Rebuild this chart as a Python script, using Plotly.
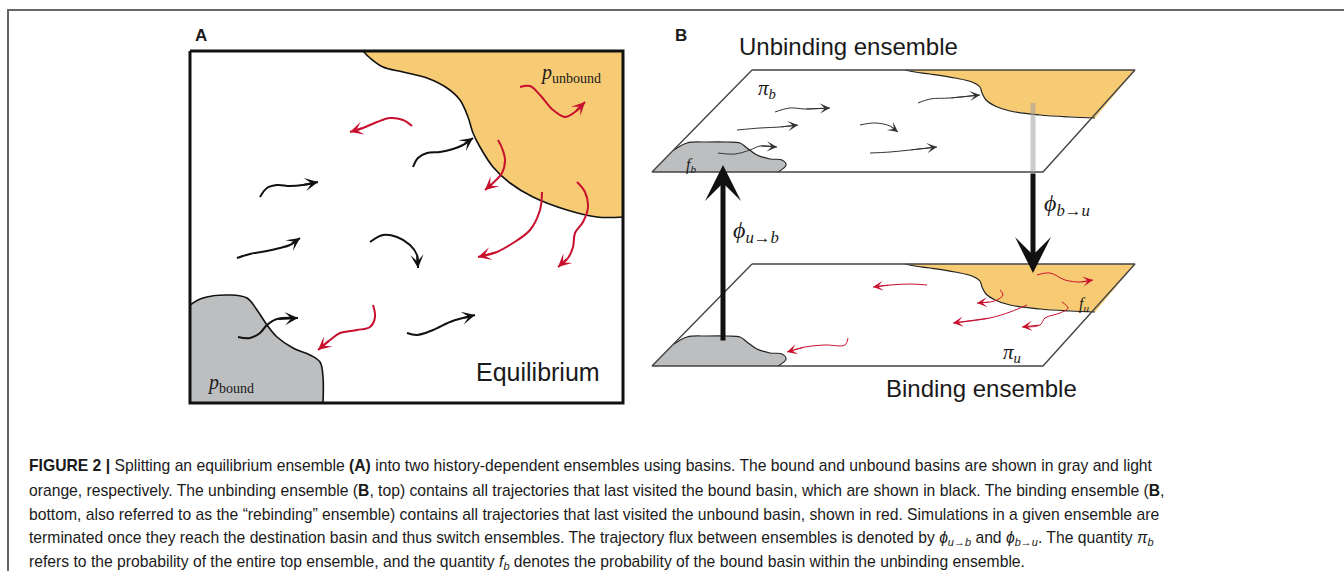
import plotly.graph_objects as go

# ---- panel A: basins (pixel coordinates of the drawing) ----
a_box_x = [190, 623, 623, 190, 190]
a_box_y = [51, 51, 403, 403, 51]

a_unbound_x = [363, 370, 383, 403, 427, 447, 460, 468, 473, 480, 493, 510, 533, 567, 597, 623]
a_unbound_y = [51, 58, 67, 72, 78, 88, 100, 117, 133, 147, 167, 183, 197, 210, 217, 217]

a_bound_x = [190, 203, 230, 247, 257, 267, 277, 293, 310, 320, 323, 323]
a_bound_y = [305, 298, 295, 298, 310, 325, 337, 348, 355, 362, 377, 403]

# trajectories that last visited the bound basin (black)
a_black = [
    ([260, 267, 277, 290, 303, 318], [197, 188, 185, 186, 185, 182]),
    ([237, 250, 267, 280, 290, 300], [258, 254, 251, 248, 245, 238]),
    ([413, 418, 427, 440, 453, 463, 473], [167, 158, 153, 152, 149, 145, 138]),
    ([370, 383, 397, 410, 417, 418], [242, 235, 237, 245, 255, 268]),
    ([238, 250, 260, 267, 277, 298], [337, 338, 333, 325, 319, 318]),
    ([407, 417, 433, 450, 463, 475], [333, 335, 330, 322, 318, 315]),
]
# trajectories that last visited the unbound basin (red)
a_red = [
    ([520, 530, 540, 553, 565, 575, 585], [87, 86, 95, 110, 117, 112, 102]),
    ([412, 403, 390, 377, 363, 350], [126, 120, 118, 122, 128, 132]),
    ([498, 502, 505, 502, 493, 485], [140, 148, 160, 173, 183, 190]),
    ([542, 540, 530, 513, 497, 478], [192, 210, 230, 243, 252, 257]),
    ([577, 585, 588, 583, 575, 573, 568, 558], [182, 192, 207, 222, 233, 247, 258, 267]),
    ([373, 375, 370, 357, 340, 330, 318], [305, 317, 327, 330, 333, 340, 350]),
]

# ---- panel B: two ensembles ----
plane_x = [752, 1135, 1043, 652, 752]
plane_top_y = [70, 70, 172, 172, 70]
plane_shift = 194

b_unbound_x = [905, 915, 930, 955, 972, 980, 982, 986, 995, 1010, 1040, 1070, 1095]
b_unbound_y = [70, 72, 74, 78, 82, 87, 93, 100, 106, 111, 115, 117, 118]
b_unbound_close_x = [1135]
b_unbound_close_y = [70]

b_bound_x = [674, 687, 707, 727, 740, 747, 757, 770, 782, 786, 778]
b_bound_y = [150, 143, 142, 142, 143, 148, 155, 159, 160, 165, 172]
b_bound_close_x = [652]
b_bound_close_y = [172]

b_black = [
    ([775, 790, 805, 830], [112, 108, 109, 108]),
    ([737, 760, 780, 798], [130, 128, 127, 125]),
    ([918, 930, 950, 980], [103, 99, 98, 95]),
    ([860, 875, 890, 898], [125, 123, 126, 132]),
    ([718, 735, 750, 760, 777], [153, 154, 150, 146, 147]),
    ([870, 890, 910, 937], [153, 152, 150, 147]),
]
b_red = [
    ([1037, 1050, 1065, 1080, 1093], [275, 273, 280, 282, 280]),
    ([927, 910, 890, 873], [285, 284, 285, 287]),
    ([1000, 1003, 997, 990, 977], [290, 295, 300, 302, 303]),
    ([1027, 1010, 990, 953], [305, 312, 318, 323]),
    ([1062, 1068, 1060, 1045, 1040, 1022], [302, 308, 313, 318, 325, 327]),
    ([848, 845, 825, 805, 787], [338, 345, 345, 347, 352]),
]

caption_lines = [
    "<b>FIGURE 2 |</b> Splitting an equilibrium ensemble <b>(A)</b> into two history-dependent ensembles using basins. The bound and unbound basins are shown in gray and light",
    "orange, respectively. The unbinding ensemble (<b>B</b>, top) contains all trajectories that last visited the bound basin, which are shown in black. The binding ensemble (<b>B</b>,",
    "bottom, also referred to as the \u201crebinding\u201d ensemble) contains all trajectories that last visited the unbound basin, shown in red. Simulations in a given ensemble are",
    "terminated once they reach the destination basin and thus switch ensembles. The trajectory flux between ensembles is denoted by <i>\u03d5<sub>u\u2192b</sub></i> and <i>\u03d5<sub>b\u2192u</sub></i>. The quantity <i>\u03c0<sub>b</sub></i>",
    "refers to the probability of the entire top ensemble, and the quantity <i>f<sub>b</sub></i> denotes the probability of the bound basin within the unbinding ensemble.",
]
caption_y = [465, 490, 514, 538, 562]

ORANGE = "#F6CB74"
GRAY = "#BCBEC0"
RED = "#C8102E"
SERIF = "Liberation Serif"
SANS = "Liberation Sans"

fig = go.Figure()
annots = []


def fill(x, y, color):
    fig.add_trace(go.Scatter(x=x, y=y, mode="lines", fill="toself", fillcolor=color,
                             line=dict(width=0), hoverinfo="skip"))


def line(x, y, color, width, shape="spline"):
    fig.add_trace(go.Scatter(x=x, y=y, mode="lines", line=dict(color=color, width=width, shape=shape),
                             hoverinfo="skip"))


def curly_arrow(xs, ys, color, width, size):
    line(xs, ys, color, width)
    annots.append(dict(x=xs[-1], y=ys[-1], ax=xs[-2], ay=ys[-2], xref="x", yref="y",
                       axref="x", ayref="y", text="", showarrow=True, arrowhead=3,
                       arrowsize=size, arrowwidth=width, arrowcolor=color))


# panel A
fill(a_unbound_x + [623], a_unbound_y + [51], ORANGE)
fill(a_bound_x + [190], a_bound_y + [403], GRAY)
line(a_unbound_x, a_unbound_y, "#111", 1.6)
line(a_bound_x, a_bound_y, "#111", 1.6)
line(a_box_x, a_box_y, "#111", 3, "linear")
for xs, ys in a_black:
    curly_arrow(xs, ys, "#111", 2, 1.1)
for xs, ys in a_red:
    curly_arrow(xs, ys, RED, 2, 1.1)

# panel B
for dy in (0, plane_shift):
    fill(plane_x, [v + dy for v in plane_top_y], "white")
    fill(b_unbound_x + b_unbound_close_x, [v + dy for v in b_unbound_y + b_unbound_close_y], ORANGE)
    fill(b_bound_x + b_bound_close_x, [v + dy for v in b_bound_y + b_bound_close_y], GRAY)
    line(b_unbound_x, [v + dy for v in b_unbound_y], "#222", 1.2)
    line(b_bound_x, [v + dy for v in b_bound_y], "#222", 1.2)
    line(plane_x, [v + dy for v in plane_top_y], "#444", 1.4, "linear")

for xs, ys in b_black:
    curly_arrow(xs, ys, "#333", 1, 1.7)
for xs, ys in b_red:
    curly_arrow(xs, ys, RED, 1, 1.7)

# flux arrows between ensembles
line([1033, 1033], [103, 172], "rgba(160,160,160,0.55)", 5, "linear")
annots.append(dict(x=1033, y=273, ax=1033, ay=172, xref="x", yref="y", axref="x", ayref="y",
                   text="", showarrow=True, arrowhead=3, arrowsize=1.2, arrowwidth=5, arrowcolor="#111"))
annots.append(dict(x=723, y=165, ax=723, ay=342, xref="x", yref="y", axref="x", ayref="y",
                   text="", showarrow=True, arrowhead=3, arrowsize=1.2, arrowwidth=5, arrowcolor="#111"))

# figure frame
line([1344, 8, 8], [10, 10, 571], "#666", 2, "linear")


def label(x, y, text, size, family=SANS, anchor="left"):
    annots.append(dict(x=x, y=y, xref="x", yref="y", text=text, showarrow=False, xanchor=anchor,
                       yanchor="middle", font=dict(family=family, size=size, color="#1a1a1a")))


label(193, 35, "<b>A</b>", 17)
label(673, 35, "<b>B</b>", 17)
label(474, 372, "Equilibrium", 25)
label(848, 46, "Unbinding ensemble", 24, anchor="center")
label(981, 388, "Binding ensemble", 24, anchor="center")
label(538, 73, "<i>p</i><sub>unbound</sub>", 20, SERIF)
label(205, 383, "<i>p</i><sub>bound</sub>", 20, SERIF)
label(756, 89, "<i>\u03c0<sub>b</sub></i>", 21, SERIF)
label(1001, 353, "<i>\u03c0<sub>u</sub></i>", 21, SERIF)
label(684, 165, "<i>f<sub>b</sub></i>", 16, SERIF)
label(1077, 304, "<i>f<sub>u</sub></i>", 16, SERIF)
label(731, 232, "<i>\u03d5<sub>u\u2192b</sub></i>", 24, SERIF)
label(1042, 205, "<i>\u03d5<sub>b\u2192u</sub></i>", 24, SERIF)

for text, yy in zip(caption_lines, caption_y):
    label(27, yy, text, 15.7)

fig.update_layout(
    width=1344, height=571,
    margin=dict(l=0, r=0, t=0, b=0),
    paper_bgcolor="white", plot_bgcolor="white",
    showlegend=False,
    xaxis=dict(range=[0, 1344], visible=False, fixedrange=True),
    yaxis=dict(range=[571, 0], visible=False, fixedrange=True),
    annotations=annots,
)

fig.write_html("out.html", config={"displayModeBar": False},
               post_script="document.body.style.margin='0';document.body.style.overflow='hidden';")
